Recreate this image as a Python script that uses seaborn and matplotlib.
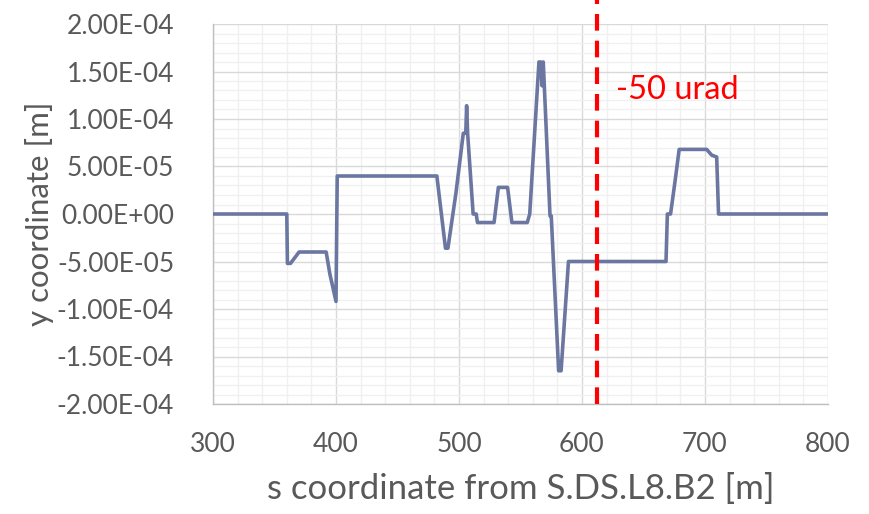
import matplotlib
matplotlib.use("Agg")
import matplotlib.pyplot as plt
import seaborn as sns
import pandas as pd
from matplotlib.ticker import MultipleLocator, FuncFormatter

s_coord = [300, 360, 360.5, 363, 370, 392, 395, 400, 401, 482, 489, 491, 497.5, 503.5,
           505.5, 506.2, 507, 511.5, 514, 515, 528.5, 532, 539.5, 543, 555.5, 557.5,
           565, 566.5, 567.5, 568.5, 574, 575, 581, 583, 589, 668.3, 669.4, 672, 675.6,
           679, 701.4, 705.4, 709.5, 711, 800]
y_coord = [0, 0, -52e-6, -52e-6, -40e-6, -40e-6, -63e-6, -92e-6, 40e-6, 40e-6, -36e-6,
           -36e-6, 22e-6, 85e-6, 85e-6, 114e-6, 85e-6, 0, 0, -9e-6, -9e-6, 28e-6, 28e-6,
           -9e-6, -9e-6, 0, 160e-6, 160e-6, 135e-6, 160e-6, -2e-6, -2e-6, -165e-6,
           -165e-6, -50e-6, -50e-6, 0, 0, 34e-6, 68e-6, 68e-6, 62e-6, 60e-6, 0, 0]
marker_x = 612
marker_label = "-50 urad"

sns.set_theme(style="white")
plt.rcParams['font.family'] = ['Lato', 'DejaVu Sans']

df = pd.DataFrame({"s": s_coord, "y": y_coord})

fig = plt.figure(figsize=(8.7, 5.14), dpi=100)
ax = fig.add_axes([213/870, 1 - 404/514, (828-213)/870, (404-24)/514])

sns.lineplot(data=df, x="s", y="y", sort=False, ax=ax, color="#6b77a1", linewidth=2.6, zorder=3)

ax.set_xlim(300, 800)
ax.set_ylim(-2e-4, 2e-4)
ax.xaxis.set_major_locator(MultipleLocator(100))
ax.xaxis.set_minor_locator(MultipleLocator(20))
ax.yaxis.set_major_locator(MultipleLocator(5e-5))
ax.yaxis.set_minor_locator(MultipleLocator(1e-5))

def yfmt(v, pos):
    s = f"{v:.2E}"
    mant, exp = s.split("E")
    e = int(exp)
    sign = "-" if e < 0 else "+"
    return f"{mant}E{sign}{abs(e):02d}"
ax.yaxis.set_major_formatter(FuncFormatter(yfmt))

ax.grid(which="major", color="#d9d9d9", linewidth=1.0, zorder=1)
ax.grid(which="minor", color="#f0f0f0", linewidth=1.0, zorder=0)
ax.set_axisbelow(True)

for side in ["top", "right"]:
    ax.spines[side].set_visible(False)
for side in ["left", "bottom"]:
    ax.spines[side].set_color("#bfbfbf")
    ax.spines[side].set_linewidth(1.0)

ax.tick_params(axis="both", which="major", direction="out", length=6, width=1,
               color="#bfbfbf", labelsize=19, labelcolor="#595959")
ax.tick_params(axis="both", which="minor", length=0)
ax.tick_params(axis="x", pad=14)
ax.tick_params(axis="y", pad=22)

ax.set_xlabel("s coordinate from S.DS.L8.B2 [m]", fontsize=25, color="#595959", labelpad=12)
ax.set_ylabel("y coordinate [m]", fontsize=22.5, color="#595959", labelpad=2)

ax.axvline(marker_x, ymin=0, ymax=1.07, color="#ff0000", linewidth=3,
           linestyle=(0, (4, 2.4)), clip_on=False, zorder=4)
ax.text(628, 1.31e-4, marker_label, color="#ff0000", fontsize=23.5, va="center", ha="left")

fig.savefig("out.png", dpi=100)
